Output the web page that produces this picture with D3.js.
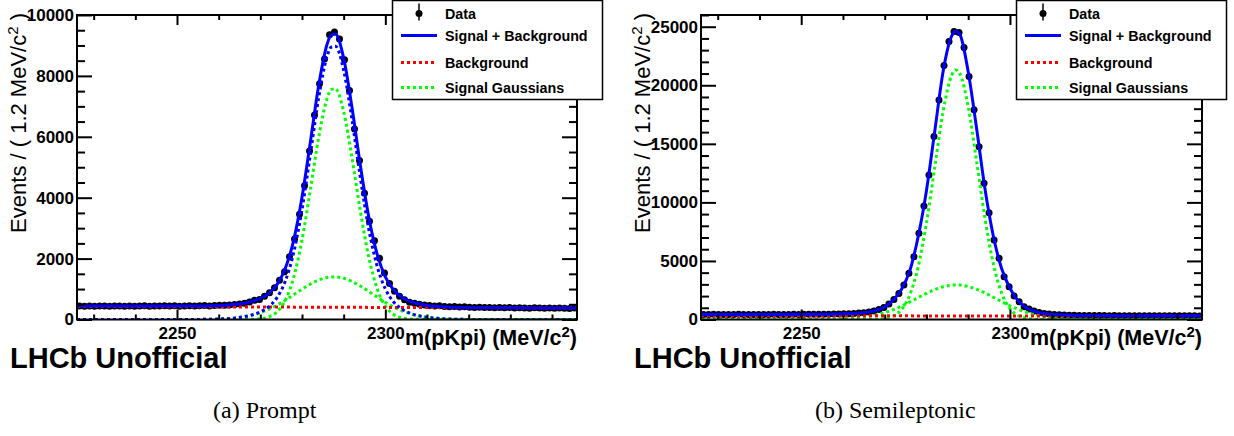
<!DOCTYPE html>
<html><head><meta charset="utf-8">
<script src="https://cdn.jsdelivr.net/npm/d3@7"></script>
<style>
html,body{margin:0;padding:0;background:#fff;}
svg{display:block;font-family:"Liberation Sans",Arial,Helvetica,sans-serif;}
</style></head><body>
<svg id="c" width="1234" height="436"></svg>
<script>
// ---------- histogram definition ----------
const binLow = 2226, binWidth = 1.2, nBins = 100, massHigh = 2346;

// ---------- data (events per bin) ----------
const promptData = [445,438,442,436,447,440,433,445,441,437, 446,439,443,450,436,444,440,448,442,452,
  438,446,455,443,450,458,447,462,465,470, 478,492,508,530,575,630,660,765,875,1040,
  1290,1565,2060,2640,3455,4390,5535,6720,7740,8555, 9350,9440,9210,8530,7520,6260,5220,4150,3230,2590,
  2010,1530,1180,930,760,650,570,530,500,478, 460,445,452,430,420,424,410,415,402,396,
  405,392,398,388,395,383,390,378,386,380, 372,384,376,370,381,368,377,372,365,375];
const semiData = [432,425,438,430,421,435,428,440,426,433, 429,437,424,431,439,428,436,430,442,434,
  438,445,440,448,452,455,462,470,482,498, 520,548,585,640,720,850,1034,1316,1718,2230,
  2940,3940,5360,7360,9690,12340,15620,18750,21685,23735, 24590,24505,23225,20745,17900,14760,11630,9120,6790,5220,
  3650,2800,2000,1513,1085,889,718,607,521,462, 425,400,385,372,360,352,345,340,336,332,
  338,329,333,325,330,322,327,320,326,318, 323,316,321,314,319,312,317,310,315,309];

// ---------- fit curves, sampled at these masses ----------
const curveMass = [2226,2234,2242,2250,2256,2260,2264,2267,2270,2272,2274,2276,2278,2280,2282,2284,2286,2287,2288,
  2290,2292,2294,2296,2298,2300,2302,2304,2306,2309,2312,2316,2322,2330,2338,2346];
const promptTotal  = [440,440,440,441,445,460,500,563,690,851,1147,1680,2601,4012,5823,7681,9030,9349,9379,
  8586,6962,5063,3382,2164,1403,970,733,596,487,433,401,387,382,379,375];
const promptSignal = [0,0,0,0,4,16,52,117,250,417,719,1263,2195,3607,5419,7278,8628,8947,8977,
  8185,6562,4664,2984,1767,1007,575,339,203,95,42,12,1,0,0,0];
const promptNarrow = [0,0,0,0,0,0,0,3,25,84,249,631,1383,2612,4256,5981,7249,7550,7578,
  6832,5313,3565,2061,1028,442,164,53,14,1,0,0,0,0,0,0];
const promptWide   = [0,0,0,0,4,16,52,114,225,333,470,632,812,995,1163,1297,1379,1397,1399,
  1353,1249,1099,923,739,565,411,286,189,94,42,12,1,0,0,0];
const semiTotal  = [430,430,432,438,452,490,560,695,1060,1650,2560,4150,7050,11000,16100,21200,24180,24620,24350,
  21150,16350,11200,7150,4350,2670,1590,990,700,475,400,352,335,325,318,310];
const semiNarrow = [0,0,0,0,0,0,1,10,86,290,839,2088,4471,8237,13046,17771,20819,21300,20976,
  18177,13547,8682,4784,2268,925,324,98,25,2,0,0,0,0,0,0];
const semiWide   = [0,0,0,1,14,50,153,315,584,834,1140,1491,1864,2231,2554,2797,2930,2950,2937,
  2816,2583,2266,1902,1528,1174,862,606,408,207,95,29,3,0,0,0];
const bkgMass = [2226, 2346];
const promptBkg = [430, 375];
const semiBkg = [320, 295];

// ---------- ticks & labels ----------
const xMajorTicks = [2250, 2300];
const xMinorTicks = [2230,2240,2260,2270,2280,2290,2310,2320,2330,2340];
const promptYMajor = [0,2000,4000,6000,8000,10000];
const semiYMajor = [0,5000,10000,15000,20000,25000];
const legendLabels = ["Data","Signal + Background","Background","Signal Gaussians"];
const captions = ["(a) Prompt","(b) Semileptonic"];
const lhcbLabel = "LHCb Unofficial";

const BLUE = "#0000ff", RED = "#ff0000", GREEN = "#00ff00";
const SANS = '"Liberation Sans",Arial,Helvetica,sans-serif';
const SERIF = '"Liberation Serif","Times New Roman",Times,serif';
const svg = d3.select("#c");

const panels = [
  {id:"p", x0:77, x1:577, data:promptData, total:promptTotal, sig:promptSignal, g1:promptNarrow, g2:promptWide,
   bkg:promptBkg, yMax:10000, yMajor:promptYMajor, yMinorStep:500, legX:392.5, cap:captions[0], capX:213, lhcbX:10},
  {id:"s", x0:701, x1:1202, data:semiData, total:semiTotal, sig:null, g1:semiNarrow, g2:semiWide,
   bkg:semiBkg, yMax:26000, yMajor:semiYMajor, yMinorStep:1000, legX:1016.5, cap:captions[1], capX:815, lhcbX:634}
];
const yTop = 15, yBot = 319.5;

panels.forEach(P => {
  const x = d3.scaleLinear().domain([binLow, massHigh]).range([P.x0, P.x1]);
  const y = d3.scaleLinear().domain([0, P.yMax]).range([yBot, yTop]);
  const g = svg.append("g");
  const clipId = "clip-" + P.id;
  svg.append("clipPath").attr("id", clipId).append("rect")
    .attr("x", P.x0).attr("y", yTop).attr("width", P.x1 - P.x0).attr("height", yBot - yTop);

  const plot = g.append("g").attr("clip-path", `url(#${clipId})`);
  const centers = d3.range(nBins).map(i => binLow + binWidth * (i + 0.5));
  plot.selectAll("circle").data(P.data).join("circle")
    .attr("cx", (d, i) => x(centers[i])).attr("cy", d => y(d)).attr("r", 3.5).attr("fill", "#000");

  const line = d3.line().x((d, i) => x(curveMass[i])).y(d => y(d)).curve(d3.curveMonotoneX);
  const bline = d3.line().x((d, i) => x(bkgMass[i])).y(d => y(d));
  const dotted = (sel, col) => sel.attr("fill", "none").attr("stroke", col).attr("stroke-width", 3).attr("stroke-dasharray", "3,3");
  plot.append("path").attr("d", line(P.g2)).call(dotted, GREEN);
  plot.append("path").attr("d", line(P.g1)).call(dotted, GREEN);
  plot.append("path").attr("d", bline(P.bkg)).call(dotted, RED);
  if (P.sig) plot.append("path").attr("d", line(P.sig)).call(dotted, BLUE);
  plot.append("path").attr("d", line(P.total)).attr("fill", "none").attr("stroke", BLUE).attr("stroke-width", 3);

  const fontAttrs = s => s.attr("font-size", 17).attr("font-weight", "bold").attr("font-family", SANS);
  const styleTicks = s => { s.select(".domain").remove(); s.selectAll(".tick line").attr("stroke-width", 2); };
  const yMinor = d3.range(0, P.yMax + 1, P.yMinorStep).filter(v => !P.yMajor.includes(v));

  g.append("g").attr("transform", `translate(0,${yBot})`)
    .call(d3.axisBottom(x).tickValues(xMajorTicks).tickSize(-10).tickPadding(7).tickFormat(d3.format("d")))
    .call(fontAttrs).call(styleTicks);
  g.append("g").attr("transform", `translate(0,${yBot})`)
    .call(d3.axisBottom(x).tickValues(xMinorTicks).tickSize(-5).tickFormat("")).call(styleTicks);
  g.append("g").attr("transform", `translate(0,${yTop})`)
    .call(d3.axisTop(x).tickValues(xMajorTicks).tickSize(-10).tickFormat("")).call(styleTicks);
  g.append("g").attr("transform", `translate(0,${yTop})`)
    .call(d3.axisTop(x).tickValues(xMinorTicks).tickSize(-5).tickFormat("")).call(styleTicks);
  g.append("g").attr("transform", `translate(${P.x0},0)`)
    .call(d3.axisLeft(y).tickValues(P.yMajor).tickSize(-15).tickPadding(3).tickFormat(d3.format("d")))
    .call(fontAttrs).call(styleTicks);
  g.append("g").attr("transform", `translate(${P.x0},0)`)
    .call(d3.axisLeft(y).tickValues(yMinor).tickSize(-8).tickFormat("")).call(styleTicks);
  g.append("g").attr("transform", `translate(${P.x1},0)`)
    .call(d3.axisRight(y).tickValues(P.yMajor).tickSize(-15).tickFormat("")).call(styleTicks);
  g.append("g").attr("transform", `translate(${P.x1},0)`)
    .call(d3.axisRight(y).tickValues(yMinor).tickSize(-8).tickFormat("")).call(styleTicks);

  g.append("rect").attr("x", P.x0).attr("y", yTop).attr("width", P.x1 - P.x0).attr("height", yBot - yTop)
    .attr("fill", "none").attr("stroke", "#000").attr("stroke-width", 2);

  const xt = g.append("text").attr("x", P.x1).attr("y", 345).attr("text-anchor", "end")
    .attr("font-size", 21.5).attr("font-weight", "bold");
  xt.append("tspan").text("m(pKpi) (MeV/c");
  xt.append("tspan").attr("dy", -8).attr("font-size", 15).text("2");
  xt.append("tspan").attr("dy", 8).text(")");

  const yt = g.append("text").attr("transform", `translate(${P.x0 - 51},13) rotate(-90)`)
    .attr("text-anchor", "end").attr("font-size", 22);
  yt.append("tspan").text("Events / ( 1.2 MeV/c");
  yt.append("tspan").attr("dy", -8).attr("font-size", 15).text("2");
  yt.append("tspan").attr("dy", 8).text(" )");

  g.append("text").attr("x", P.lhcbX).attr("y", 368).attr("font-size", 29).attr("font-weight", "bold").text(lhcbLabel);
  g.append("text").attr("x", P.capX).attr("y", 418).attr("font-size", 24)
    .style("font-family", SERIF).text(P.cap);

  const L = g.append("g").attr("transform", `translate(${P.legX},0.5)`);
  L.append("rect").attr("width", 210).attr("height", 99).attr("fill", "#fff").attr("stroke", "#000").attr("stroke-width", 1.5);
  const rowsY = [13, 35, 62, 87];
  legendLabels.forEach((lab, k) => {
    const ry = rowsY[k];
    if (k === 0) {
      L.append("line").attr("x1", 26.5).attr("x2", 26.5).attr("y1", ry - 10).attr("y2", ry + 7).attr("stroke", "#000").attr("stroke-width", 1.5);
      L.append("circle").attr("cx", 26.5).attr("cy", ry).attr("r", 3.5).attr("fill", "#000");
    } else {
      const col = [null, BLUE, RED, GREEN][k];
      const ln = L.append("line").attr("x1", 8.5).attr("x2", 44.5).attr("y1", ry).attr("y2", ry)
        .attr("stroke", col).attr("stroke-width", 3);
      if (k > 1) ln.attr("stroke-dasharray", "3,3");
    }
    L.append("text").attr("x", 52.5).attr("y", ry).attr("dy", "0.36em")
      .attr("font-size", 14.3).attr("font-weight", "bold").text(lab);
  });
});
</script>
</body></html>
